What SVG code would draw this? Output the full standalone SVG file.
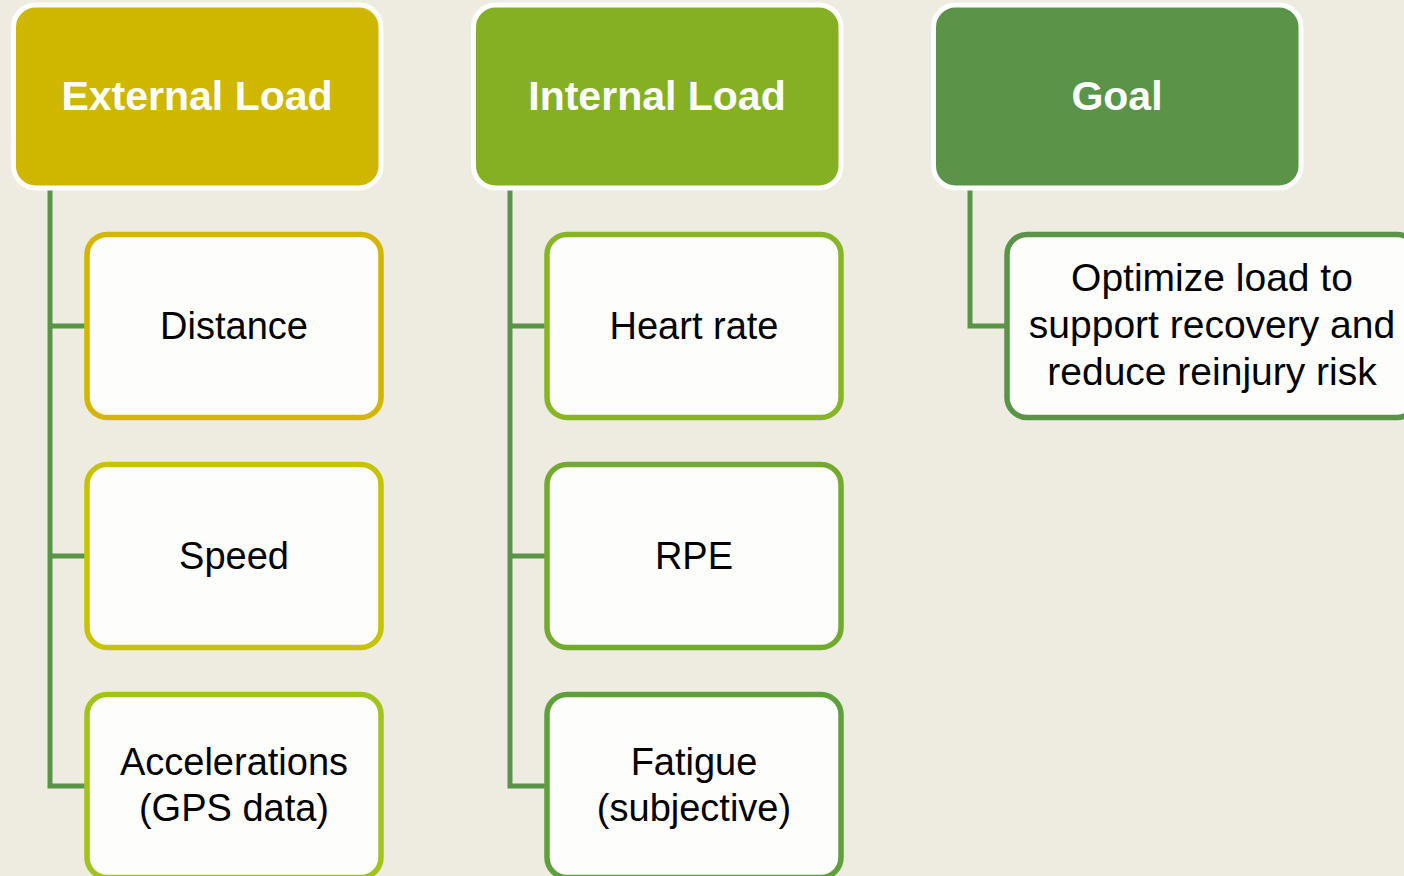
<svg xmlns="http://www.w3.org/2000/svg" width="1404" height="876" viewBox="0 0 1404 876">
  <style>
    .head rect { stroke: #ffffff; stroke-width: 5; }
    .head text { font-family: "Liberation Sans", Arial, sans-serif; font-weight: bold; font-size: 41px; fill: #ffffff; text-anchor: middle; }
    .item rect { fill: #fdfdfb; stroke-width: 5.5; }
    .item text { font-family: "Liberation Sans", Arial, sans-serif; font-size: 38px; fill: #000000; text-anchor: middle; }
    .item text.wide { font-size: 39px; }
    .links path { fill: none; stroke: #5a9448; stroke-width: 5; stroke-linejoin: miter; }
  </style>

  <rect x="0" y="0" width="1404" height="876" fill="#eeebe0"/>

  <!-- tree connectors -->
  <g id="connectors" class="links">
    <path d="M50 188 V786 H88 M50 326 H88 M50 556 H88"/>
    <path d="M510 188 V786 H548 M510 326 H548 M510 556 H548"/>
    <path d="M970 188 V326 H1008"/>
  </g>

  <!-- column headers -->
  <g id="external-load" class="head">
    <rect x="13.5" y="5" width="367.5" height="183" rx="22" fill="#cfb700"/>
    <text x="197" y="110">External Load</text>
  </g>
  <g id="internal-load" class="head">
    <rect x="473.5" y="5" width="367.5" height="183" rx="22" fill="#85b024"/>
    <text x="657" y="110">Internal Load</text>
  </g>
  <g id="goal" class="head">
    <rect x="933.5" y="5" width="367.5" height="183" rx="22" fill="#5a9448"/>
    <text x="1117" y="110">Goal</text>
  </g>

  <!-- external load items -->
  <g id="distance" class="item">
    <rect x="87" y="234.5" width="294" height="183" rx="20" stroke="#d4b600"/>
    <text x="234" y="339">Distance</text>
  </g>
  <g id="speed" class="item">
    <rect x="87" y="464.5" width="294" height="183" rx="20" stroke="#c6c400"/>
    <text x="234" y="569">Speed</text>
  </g>
  <g id="accelerations" class="item">
    <rect x="87" y="694.5" width="294" height="183" rx="20" stroke="#a2c21c"/>
    <text x="234" y="775">Accelerations</text>
    <text x="234" y="821">(GPS data)</text>
  </g>

  <!-- internal load items -->
  <g id="heart-rate" class="item">
    <rect x="547" y="234.5" width="294" height="183" rx="20" stroke="#88b526"/>
    <text x="694" y="339">Heart rate</text>
  </g>
  <g id="rpe" class="item">
    <rect x="547" y="464.5" width="294" height="183" rx="20" stroke="#72aa30"/>
    <text x="694" y="569">RPE</text>
  </g>
  <g id="fatigue" class="item">
    <rect x="547" y="694.5" width="294" height="183" rx="20" stroke="#60a03c"/>
    <text x="694" y="775">Fatigue</text>
    <text x="694" y="821">(subjective)</text>
  </g>

  <!-- goal item -->
  <g id="goal-item" class="item">
    <rect x="1007" y="234.5" width="410" height="183" rx="20" stroke="#5a9448"/>
    <text class="wide" x="1212" y="291">Optimize load to</text>
    <text class="wide" x="1212" y="338">support recovery and</text>
    <text class="wide" x="1212" y="385">reduce reinjury risk</text>
  </g>
</svg>
